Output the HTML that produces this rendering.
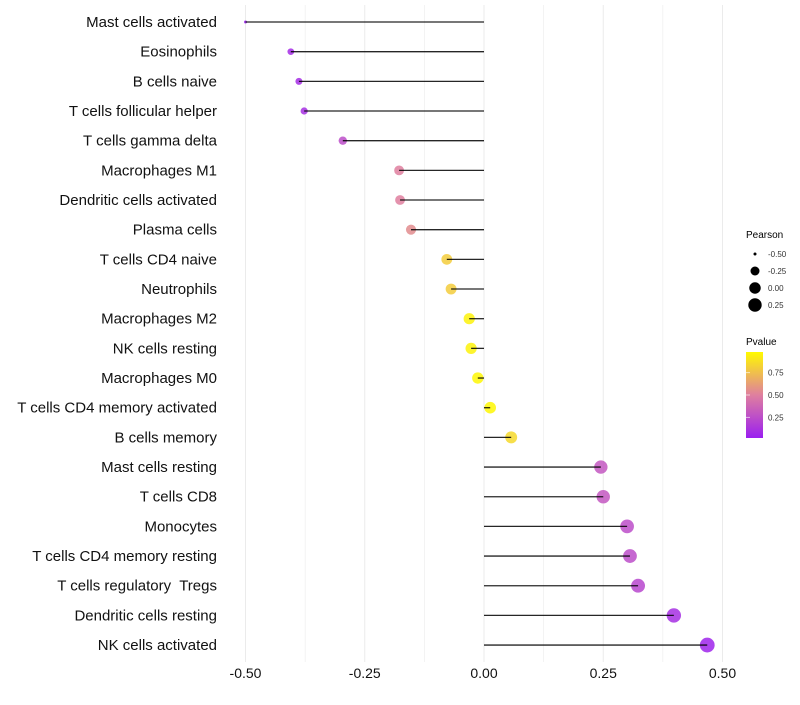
<!DOCTYPE html>
<html><head><meta charset="utf-8"><style>
body{margin:0;background:#fff;font-family:"Liberation Sans",sans-serif}
svg text{font-family:"Liberation Sans",sans-serif;white-space:pre}
</style></head><body>
<svg id="chart" width="800" height="700" xmlns="http://www.w3.org/2000/svg">
<defs><linearGradient id="pg" x1="0" y1="1" x2="0" y2="0">
<stop offset="0" stop-color="#9b1ff0"/><stop offset="0.5" stop-color="#df7f9f"/><stop offset="1" stop-color="#fffa00"/></linearGradient></defs>
<g id="grid"></g>
<g id="marks"></g>
<g id="ylabels"></g>
<g id="xlabels"></g>
<g>
<text x="746" y="238" font-size="10" fill="#000">Pearson</text>
<g id="sizeLegend"></g>
</g>
<g>
<text x="746" y="345" font-size="10" fill="#000">Pvalue</text>
<rect x="746" y="352" width="17" height="86" fill="url(#pg)"/>
<g id="pticks"></g>
</g>
</svg>
<script>
const categories=["Mast cells activated","Eosinophils","B cells naive","T cells follicular helper","T cells gamma delta","Macrophages M1","Dendritic cells activated","Plasma cells","T cells CD4 naive","Neutrophils","Macrophages M2","NK cells resting","Macrophages M0","T cells CD4 memory activated","B cells memory","Mast cells resting","T cells CD8","Monocytes","T cells CD4 memory resting","T cells regulatory  Tregs","Dendritic cells resting","NK cells activated"];
const pearson=[-0.50,-0.405,-0.388,-0.377,-0.296,-0.178,-0.176,-0.153,-0.078,-0.069,-0.031,-0.027,-0.013,0.013,0.057,0.245,0.25,0.30,0.306,0.323,0.398,0.468];
const pvalue=[0.02,0.08,0.09,0.1,0.25,0.5,0.5,0.55,0.8,0.8,0.95,0.95,0.97,0.97,0.85,0.3,0.3,0.25,0.25,0.22,0.1,0.05];
const xTicks=[-0.5,-0.25,0,0.25,0.5];
const xTickLabels=["-0.50","-0.25","0.00","0.25","0.50"];
const sizeLegendVals=[-0.5,-0.25,0,0.25];
const sizeLegendLabels=["-0.50","-0.25","0.00","0.25"];
const pTicks=[0.25,0.5,0.75];
const pTickLabels=["0.25","0.50","0.75"];

const NS="http://www.w3.org/2000/svg";
const X=v=>484+v*477;
const Y=i=>22+i*29.67;
const R=v=>1.5+6*Math.sqrt(Math.max(0,v+0.5));
const stops=[[155,31,240],[223,127,159],[255,250,0]];
function col(p){let t=Math.min(1,Math.max(0,(p-0.02)/0.96));let a,b,f;if(t<0.5){a=stops[0];b=stops[1];f=t/0.5}else{a=stops[1];b=stops[2];f=(t-0.5)/0.5}
return `rgb(${a.map((c,k)=>Math.round(c+(b[k]-c)*f)).join(',')})`;}
function mk(tag,attrs,parent){const e=document.createElementNS(NS,tag);for(const k in attrs)e.setAttribute(k,attrs[k]);parent.appendChild(e);return e;}
const grid=document.getElementById('grid'),marks=document.getElementById('marks'),yl=document.getElementById('ylabels'),xl=document.getElementById('xlabels');
for(let v=-0.5;v<=0.5001;v+=0.125){const g=mk('line',{x1:X(v),x2:X(v),y1:5,y2:662,stroke:'#ebebeb','stroke-width':Math.abs((v*4)%1)<1e-6?1:0.6},grid);

}
categories.forEach((c,i)=>{
const p=mk('circle',{cx:X(pearson[i]),cy:Y(i),r:R(pearson[i]),fill:col(pvalue[i]),'fill-opacity':0.85},marks);


const l=mk('line',{x1:X(pearson[i]),x2:X(0),y1:Y(i),y2:Y(i),stroke:'#000','stroke-width':1.3,'stroke-opacity':0.85},marks);


const t=mk('text',{x:217,y:Y(i)+5,'text-anchor':'end','font-size':15,fill:'#111'},yl);t.textContent=c;


});
xTicks.forEach((v,i)=>{const t=mk('text',{x:X(v),y:678,'text-anchor':'middle','font-size':14,fill:'#111'},xl);t.textContent=xTickLabels[i];

});
const sl=document.getElementById('sizeLegend');
sizeLegendVals.forEach((v,i)=>{const y=254+i*17;
const c=mk('circle',{cx:755,cy:y,r:R(v)},sl);


const t=mk('text',{x:768,y:y+3,'font-size':8,fill:'#333'},sl);t.textContent=sizeLegendLabels[i];

});
const pt=document.getElementById('pticks');
pTicks.forEach((v,i)=>{const y=352+86*(1-(v-0.02)/0.96);
const l=mk('line',{x1:746,x2:750,y1:y,y2:y,stroke:'#fff','stroke-opacity':0.6},pt);


const t=mk('text',{x:768,y:y+3,'font-size':8,fill:'#333'},pt);t.textContent=pTickLabels[i];

});
</script>
</body></html>
